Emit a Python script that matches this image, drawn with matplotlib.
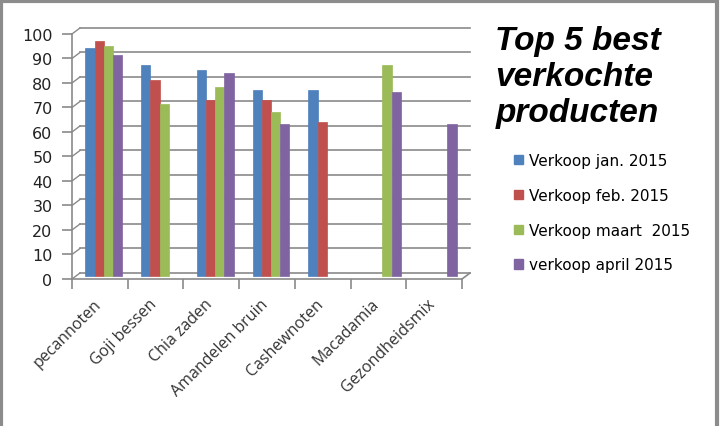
import numpy as np
import matplotlib
matplotlib.use('Agg')
import matplotlib.pyplot as plt
import matplotlib.transforms as mtransforms
from matplotlib.patches import Rectangle, Patch

## data
products = ['pecannoten', 'Goji bessen', 'Chia zaden', 'Amandelen bruin',
            'Cashewnoten', 'Macadamia', 'Gezondheidsmix']
series = ['Verkoop jan. 2015', 'Verkoop feb. 2015', 'Verkoop maart  2015', 'verkoop april 2015']
jan = [93, 86, 84, 76, 76, np.nan, np.nan]
feb = [96, 80, 72, 72, 63, np.nan, np.nan]
maart = [94, 70, 77, 67, np.nan, 86, np.nan]
april = [90, np.nan, 83, 62, np.nan, 75, 62]
yticks = list(range(0, 101, 10))

colors = ['#4F81BD', '#C0504D', '#9BBB59', '#8064A2']
gridc = '#8a8a8a'

## plot
fig = plt.figure(figsize=(7.2, 4.27), dpi=100)
# axes = front plane of the excel "3d" box
ax = fig.add_axes([0.10, 0.3443, 0.5417, 0.5738])

def shift(px, py):
    # offset in pixels (dpi 100)
    return ax.transData + mtransforms.ScaledTranslation(px / 100, py / 100, fig.dpi_scale_trans)

back = shift(8, 6)
mid = shift(4, 3)

x = np.arange(len(products))
w = 0.165
for i, (vals, c) in enumerate(zip([jan, feb, maart, april], colors)):
    bars = ax.bar(x + (i - 1.5) * w, vals, width=w, color=c, edgecolor=c,
                  linewidth=0.5, zorder=3)
    for b in bars:
        b.set_transform(mid)

ax.set_xlim(-0.5, len(products) - 0.5)
ax.set_ylim(0, 100)

# gridlines on the back wall, with the left wall edges
x0, x1 = -0.5, len(products) - 0.5
for t in yticks:
    ax.plot([x0, x1], [t, t], color=gridc, lw=1.2, transform=back, clip_on=False, zorder=1)
for t in yticks:
    # diagonal from front axis to back wall
    p0 = ax.transData.transform((x0, t))
    p1 = back.transform((x0, t))
    ax.plot([p0[0], p1[0]], [p0[1], p1[1]], color=gridc, lw=1.0,
            transform=None, clip_on=False, zorder=1)
# floor: right edge diagonal
p0 = ax.transData.transform((x1, 0))
p1 = back.transform((x1, 0))
ax.plot([p0[0], p1[0]], [p0[1], p1[1]], color=gridc, lw=1.2, transform=None, clip_on=False)

ax.set_yticks(yticks)
ax.set_yticklabels([str(t) for t in yticks], fontsize=11.5, family='DejaVu Sans', color='#222222')

# category labels in the middle, tick marks between categories
ax.set_xticks(x)
ax.set_xticklabels(products, rotation=45, ha='right', rotation_mode='anchor',
                   fontsize=11.5, family='Open Sans', color='#333333')
ax.tick_params(axis='x', length=0, pad=12)
ax.set_xticks(np.arange(-0.5, len(products)), minor=True)
ax.tick_params(axis='x', which='minor', length=7, color=gridc, width=1.2)
ax.tick_params(axis='y', length=7, color=gridc, width=1.2, pad=7)
lab_off = mtransforms.ScaledTranslation(-7 / 100, 0, fig.dpi_scale_trans)
for lab in ax.get_xticklabels():
    lab.set_transform(lab.get_transform() + lab_off)

for s in ['top', 'right']:
    ax.spines[s].set_visible(False)
for s in ['left', 'bottom']:
    ax.spines[s].set_color(gridc)
    ax.spines[s].set_linewidth(1.2)

# title
fig.text(0.688, 0.938, 'Top 5 best\nverkochte\nproducten', ha='left', va='top',
         fontsize=24, fontweight='bold', fontstyle='italic', family='Liberation Sans',
         linespacing=1.2, color='black')

# legend
handles = [Patch(facecolor=c, edgecolor=c) for c in colors]
fig.legend(handles, series, loc='upper left', bbox_to_anchor=(0.706, 0.654),
           frameon=False, fontsize=11, handlelength=0.55, handleheight=0.55,
           handletextpad=0.4, labelspacing=1.3, borderaxespad=0)

# grey frame round the chart
fig.patches.append(Rectangle((0.002, -0.05), 0.994, 1.045, transform=fig.transFigure,
                             fill=False, edgecolor='#8c8c8c', linewidth=3))

fig.savefig('out.png', dpi=100)
plt.close()
